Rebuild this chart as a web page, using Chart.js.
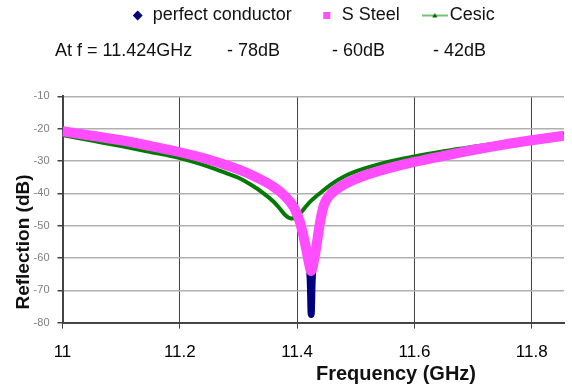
<!DOCTYPE html>
<html>
<head>
<meta charset="utf-8">
<script src="https://cdn.jsdelivr.net/npm/chart.js@4.4.0/dist/chart.umd.min.js"></script>
<style>
  html, body { margin: 0; padding: 0; background: #fff; }
</style>
</head>
<body>
<canvas id="chart" width="572" height="386"></canvas>
<script>
// series (frequency in GHz, reflection in dB)
const seriesNames = ['perfect conductor', 'S Steel', 'Cesic'];

const perfectFreq = [11.00, 11.10, 11.20, 11.30, 11.36, 11.38, 11.395, 11.405, 11.413, 11.418, 11.421,
  11.4225, 11.424, 11.4255, 11.427, 11.430, 11.434, 11.440, 11.446, 11.456, 11.50, 11.60, 11.70, 11.80, 11.855];
const perfectDb = [-20.8, -23.6, -27.3, -32.6, -38.0, -41.0, -44.8, -49.5, -56.0, -61.0, -63.0,
  -68.0, -77.5, -68.0, -63.0, -61.0, -56.0, -49.5, -43.8, -40.5, -35.5, -30.3, -26.6, -23.6, -22.2];

const steelFreq = [11.00, 11.05, 11.10, 11.15, 11.20, 11.25, 11.30, 11.33, 11.36, 11.38, 11.395, 11.405,
  11.413, 11.419, 11.424, 11.429, 11.434, 11.439, 11.446, 11.456, 11.48, 11.50, 11.55, 11.60, 11.65,
  11.70, 11.75, 11.80, 11.855];
const steelDb = [-20.8, -22.2, -23.6, -25.4, -27.3, -29.6, -32.6, -35.0, -38.0, -41.0, -44.5, -49.0,
  -55.0, -60.5, -64.0, -60.5, -55.0, -49.0, -43.5, -40.5, -37.3, -35.5, -32.5, -30.3, -28.4,
  -26.6, -25.0, -23.6, -22.2];

const cesicFreq = [11.00, 11.05, 11.10, 11.15, 11.20, 11.25, 11.28, 11.30, 11.32, 11.34, 11.36, 11.37,
  11.38, 11.39, 11.398, 11.405, 11.42, 11.44, 11.46, 11.48, 11.50, 11.55, 11.60, 11.65, 11.70, 11.75,
  11.80, 11.855];
const cesicDb = [-22.0, -23.7, -25.4, -27.2, -29.1, -31.8, -33.8, -35.2, -37.2, -39.6, -42.6, -44.6,
  -46.8, -47.8, -47.6, -46.3, -43.0, -39.8, -37.0, -34.8, -33.2, -30.5, -28.6, -27.0, -25.6, -24.3,
  -23.0, -21.6];

const xTicks = [11, 11.2, 11.4, 11.6, 11.8];
const yTicks = [-80, -70, -60, -50, -40, -30, -20, -10];

const noteLabel = 'At f = 11.424GHz';
const noteValues = ['- 78dB', '- 60dB', '- 42dB'];
const xTitle = 'Frequency (GHz)';
const yTitle = 'Reflection (dB)';

const FONT = '"Liberation Sans", Arial, sans-serif';

function toPoints(xs, ys) {
  return xs.map((x, i) => ({ x: x, y: ys[i] }));
}

// legend icon for Cesic: thin line with a small triangle
const cesicIcon = document.createElement('canvas');
cesicIcon.width = 26;
cesicIcon.height = 10;
(function () {
  const c = cesicIcon.getContext('2d');
  c.strokeStyle = '#1a9a1a';
  c.lineWidth = 1.2;
  c.beginPath();
  c.moveTo(0, 5);
  c.lineTo(26, 5);
  c.stroke();
  c.fillStyle = '#006400';
  c.beginPath();
  c.moveTo(13, 2.5);
  c.lineTo(15.5, 7);
  c.lineTo(10.5, 7);
  c.closePath();
  c.fill();
})();

// annotation row and axis titles
const headerPlugin = {
  id: 'header',
  afterDraw(chart) {
    const ctx = chart.ctx;
    ctx.save();
    ctx.fillStyle = '#111';
    ctx.textBaseline = 'middle';
    ctx.font = '18px ' + FONT;
    ctx.fillText(noteLabel, 55, 51);
    const cols = [227, 332, 433];
    noteValues.forEach((t, i) => ctx.fillText(t, cols[i], 51));

    ctx.textAlign = 'center';
    ctx.font = 'bold 20px ' + FONT;
    ctx.fillText(xTitle, 396, 374);

    ctx.translate(24, 242);
    ctx.rotate(-Math.PI / 2);
    ctx.font = 'bold 19px ' + FONT;
    ctx.fillText(yTitle, 0, 0);
    ctx.restore();
  }
};

const ctx = document.getElementById('chart');
new Chart(ctx, {
  type: 'scatter',
  data: {
    datasets: [
      {
        label: seriesNames[0],
        data: toPoints(perfectFreq, perfectDb),
        borderColor: '#000080',
        backgroundColor: '#000080',
        borderWidth: 7,
        pointStyle: 'rectRot',
        order: 1
      },
      {
        label: seriesNames[1],
        data: toPoints(steelFreq, steelDb),
        borderColor: '#ff4dff',
        backgroundColor: '#ff4dff',
        borderWidth: 10,
        pointStyle: 'rect',
        order: 0
      },
      {
        label: seriesNames[2],
        data: toPoints(cesicFreq, cesicDb),
        borderColor: '#007a00',
        backgroundColor: '#007a00',
        borderWidth: 4,
        pointStyle: 'triangle',
        order: 2
      }
    ]
  },
  options: {
    responsive: false,
    animation: false,
    devicePixelRatio: 1,
    showLine: true,
    elements: {
      point: { radius: 0, hoverRadius: 0 },
      line: { cubicInterpolationMode: 'monotone', borderJoinStyle: 'round', fill: false }
    },
    layout: { padding: { top: -22.5, left: 0, right: 8, bottom: 0 } },
    plugins: {
      tooltip: { enabled: false },
      legend: {
        position: 'top',
        fullSize: false,
        weight: 1000,
        labels: {
          usePointStyle: true,
          boxWidth: 12,
          boxHeight: 7,
          padding: 29,
          color: '#111',
          font: { family: FONT, size: 18 },
          generateLabels(chart) {
            const items = Chart.defaults.plugins.legend.labels.generateLabels(chart);
            items.sort((a, b) => a.datasetIndex - b.datasetIndex);
            return items.map(item => {
              const ds = chart.data.datasets[item.datasetIndex];
              item.lineWidth = 0;
              item.fillStyle = ds.borderColor;
              item.strokeStyle = ds.borderColor;
              item.pointStyle = item.datasetIndex === 2 ? cesicIcon : ds.pointStyle;
              return item;
            });
          }
        }
      },
      // empty subtitle only reserves the room of the annotation row
      subtitle: {
        display: true,
        text: '',
        weight: 500,
        font: { size: 10 },
        padding: { top: 0, bottom: 49.8 }
      }
    },
    scales: {
      x: {
        type: 'linear',
        min: 11,
        max: 11.855,
        afterBuildTicks: s => { s.ticks = xTicks.map(v => ({ value: v })); },
        afterFit: s => { s.height = 63.3; },
        ticks: {
          color: '#000',
          padding: 13,
          font: { family: FONT, size: 17 },
          callback: v => String(Math.round(v * 10) / 10)
        },
        grid: { color: '#444', lineWidth: 1, tickLength: 6, tickColor: '#444' },
        border: { color: '#444', width: 2 }
      },
      y: {
        type: 'linear',
        min: -80,
        max: -10,
        afterBuildTicks: s => { s.ticks = yTicks.map(v => ({ value: v })); },
        afterFit: s => { s.width = 62.5; },
        ticks: { color: '#808080', padding: 8, font: { family: FONT, size: 11 } },
        grid: { color: '#b0b0b0', lineWidth: 1.5, tickLength: 5, tickColor: '#444' },
        border: { color: '#444', width: 2 }
      }
    }
  },
  plugins: [headerPlugin]
});
</script>
</body>
</html>
